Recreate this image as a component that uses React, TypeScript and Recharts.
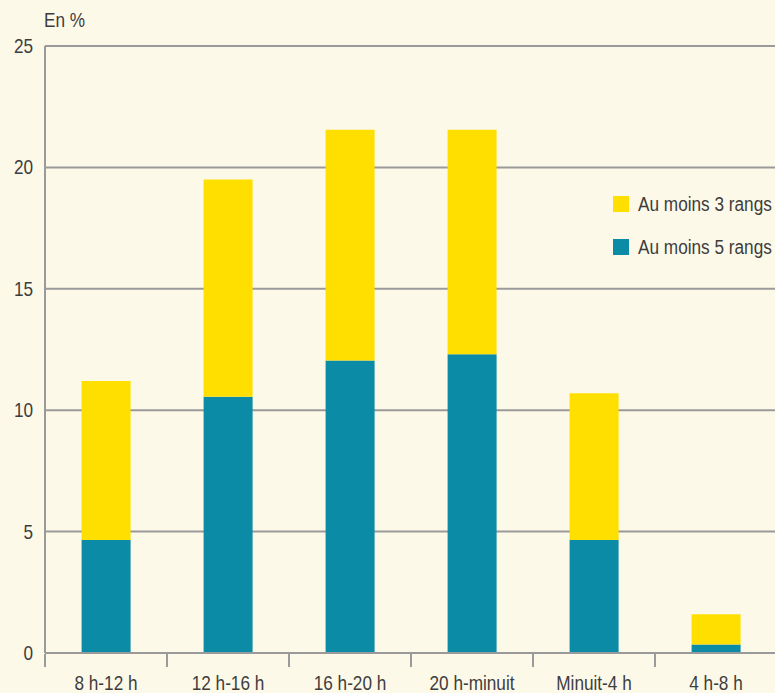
import { BarChart, Bar, XAxis, YAxis, CartesianGrid, Legend } from 'recharts';

const categories = ['8 h-12 h', '12 h-16 h', '16 h-20 h', '20 h-minuit', 'Minuit-4 h', '4 h-8 h'];
// total height of the bar = "Au moins 3 rangs"
const auMoins3 = [11.2, 19.5, 21.55, 21.55, 10.7, 1.6];
// bottom part = "Au moins 5 rangs"
const auMoins5 = [4.65, 10.55, 12.05, 12.3, 4.65, 0.35];
const yTicks = [0, 5, 10, 15, 20, 25];
const edgeTicks = [0, 1, 2, 3, 4, 5, 6];

const YELLOW = '#ffdf00';
const TEAL = '#0b8ba6';
const BG = '#fdf9e9';
const GRID = '#9a9a9a';
const TEXT = '#3d3d3d';
const FONT = "'Liberation Sans', Arial, sans-serif";
const SQUEEZE = 0.86; // fake condensed font

const data = categories.map((name, i) => ({
  name,
  idx: i + 0.5,
  cinq: auMoins5[i],
  trois: +(auMoins3[i] - auMoins5[i]).toFixed(2),
}));

const legendItems = [
  { label: 'Au moins 3 rangs', color: YELLOW },
  { label: 'Au moins 5 rangs', color: TEAL },
];

// eslint-disable-next-line @typescript-eslint/no-explicit-any
const XTick = ({ x, y, payload }: any) => (
  <text
    transform={`translate(${x},${y + 29}) scale(${SQUEEZE},1)`}
    textAnchor="middle"
    fill={TEXT}
    fontSize={20}
    fontFamily={FONT}
  >
    {payload.value}
  </text>
);

// eslint-disable-next-line @typescript-eslint/no-explicit-any
const YTick = ({ x, y, payload }: any) => (
  <text
    transform={`translate(${x - 4},${y + 7}) scale(${SQUEEZE},1)`}
    textAnchor="end"
    fill={TEXT}
    fontSize={20}
    fontFamily={FONT}
  >
    {payload.value}
  </text>
);

function Squeezed({ children }: { children: string }) {
  return (
    <span style={{ display: 'inline-block', whiteSpace: 'nowrap', transform: `scaleX(${SQUEEZE})`, transformOrigin: 'left center' }}>
      {children}
    </span>
  );
}

function LegendBox() {
  return (
    <div style={{ fontFamily: FONT, fontSize: 20, color: TEXT }}>
      {legendItems.map((it) => (
        <div key={it.label} style={{ display: 'flex', alignItems: 'center', height: 22, marginBottom: 21, whiteSpace: 'nowrap' }}>
          <span style={{ width: 16, height: 16, background: it.color, display: 'inline-block', marginRight: 9, flex: 'none' }} />
          <Squeezed>{it.label}</Squeezed>
        </div>
      ))}
    </div>
  );
}

export default function App() {
  return (
    <div style={{ position: 'absolute', left: 0, top: 0, width: 775, height: 693, background: BG, overflow: 'hidden' }}>
      <div style={{ position: 'absolute', left: 44, top: 9, fontFamily: FONT, fontSize: 20, color: TEXT }}>
        <Squeezed>En %</Squeezed>
      </div>
      <BarChart
        width={777}
        height={693}
        data={data}
        barCategoryGap="30%"
        margin={{ top: 46, right: 0, bottom: 0, left: 0 }}
      >
        <CartesianGrid vertical={false} stroke={GRID} strokeWidth={2} />
        <XAxis
          dataKey="name"
          height={1}
          axisLine={{ stroke: GRID, strokeWidth: 2 }}
          tickLine={false}
          interval={0}
          tick={<XTick />}
        />
        <XAxis
          xAxisId="edges"
          type="number"
          dataKey="idx"
          domain={[0, 6]}
          ticks={edgeTicks}
          height={39}
          axisLine={false}
          tickSize={13}
          tickLine={{ stroke: GRID, strokeWidth: 2 }}
          tickFormatter={() => ''}
        />
        <YAxis
          width={45}
          domain={[0, 25]}
          ticks={yTicks}
          axisLine={{ stroke: GRID, strokeWidth: 2 }}
          tickLine={false}
          tick={<YTick />}
        />
        <Legend
          layout="horizontal"
          verticalAlign="middle"
          align="center"
          wrapperStyle={{ top: 193, left: 613, width: 200 }}
          content={() => <LegendBox />}
        />
        <Bar dataKey="cinq" stackId="a" fill={TEAL} isAnimationActive={false} />
        <Bar dataKey="trois" stackId="a" fill={YELLOW} isAnimationActive={false} />
      </BarChart>
    </div>
  );
}
